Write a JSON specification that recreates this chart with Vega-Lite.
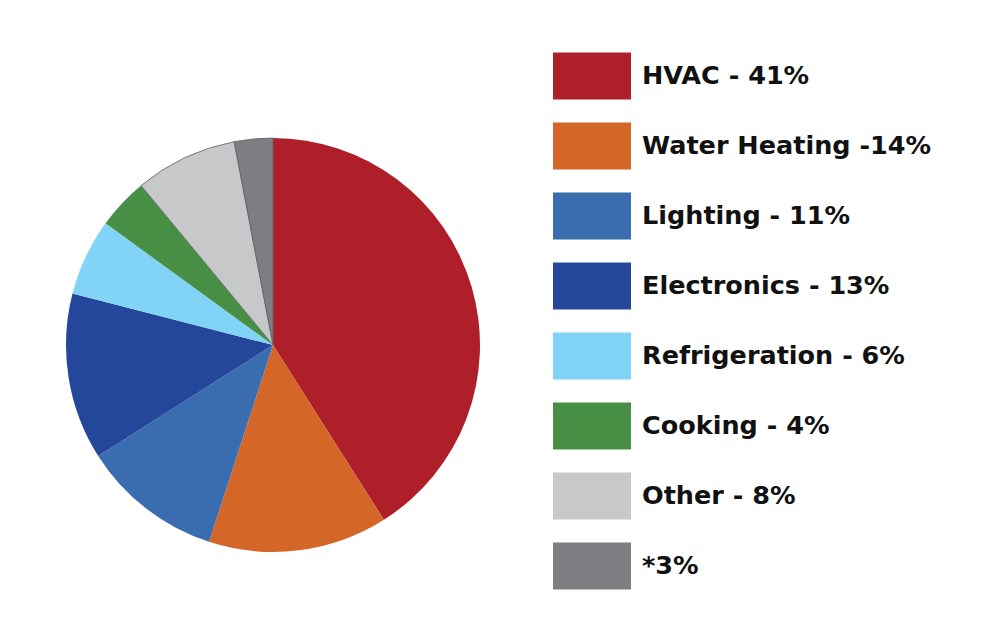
{
  "$schema": "https://vega.github.io/schema/vega-lite/v6.json",
  "autosize": {"type": "none"},
  "width": 546,
  "height": 588,
  "padding": {"left": 0, "top": 51, "right": 437, "bottom": 0},
  "background": "white",
  "data": {
    "values": [
      {"category": "HVAC - 41%", "share": 41},
      {"category": "Water Heating -14%", "share": 14},
      {"category": "Lighting - 11%", "share": 11},
      {"category": "Electronics - 13%", "share": 13},
      {"category": "Refrigeration - 6%", "share": 6},
      {"category": "Cooking - 4%", "share": 4},
      {"category": "Other - 8%", "share": 8},
      {"category": "*3%", "share": 3}
    ]
  },
  "transform": [
    {"window": [{"op": "row_number", "as": "idx"}]}
  ],
  "mark": {"type": "arc", "radius": 207},
  "encoding": {
    "theta": {"field": "share", "type": "quantitative", "stack": true},
    "order": {"field": "idx", "type": "quantitative", "sort": "ascending"},
    "color": {
      "field": "category",
      "type": "nominal",
      "sort": ["HVAC - 41%", "Water Heating -14%", "Lighting - 11%", "Electronics - 13%", "Refrigeration - 6%", "Cooking - 4%", "Other - 8%", "*3%"],
      "scale": {
        "domain": ["HVAC - 41%", "Water Heating -14%", "Lighting - 11%", "Electronics - 13%", "Refrigeration - 6%", "Cooking - 4%", "Other - 8%", "*3%"],
        "range": ["#AE1F2A", "#D46628", "#3A6DB0", "#25479B", "#81D4F5", "#468F45", "#C7C8CA", "#7D7E82"]
      },
      "legend": {
        "title": null,
        "orient": "none",
        "legendX": 553,
        "legendY": -14,
        "symbolType": "M-1,-0.6026H1V0.6026H-1Z",
        "symbolSize": 6084,
        "symbolStrokeWidth": 0,
        "labelFont": "DejaVu Sans",
        "labelFontWeight": "bold",
        "labelFontSize": 25.5,
        "labelColor": "#111111",
        "labelOffset": 11,
        "labelLimit": 0,
        "rowPadding": 7
      }
    },
    "stroke": {
      "condition": {"test": "datum.category === '*3%' || datum.category === 'Other - 8%'", "value": "#5f6064"},
      "value": null
    },
    "strokeWidth": {"value": 0.8}
  }
}
